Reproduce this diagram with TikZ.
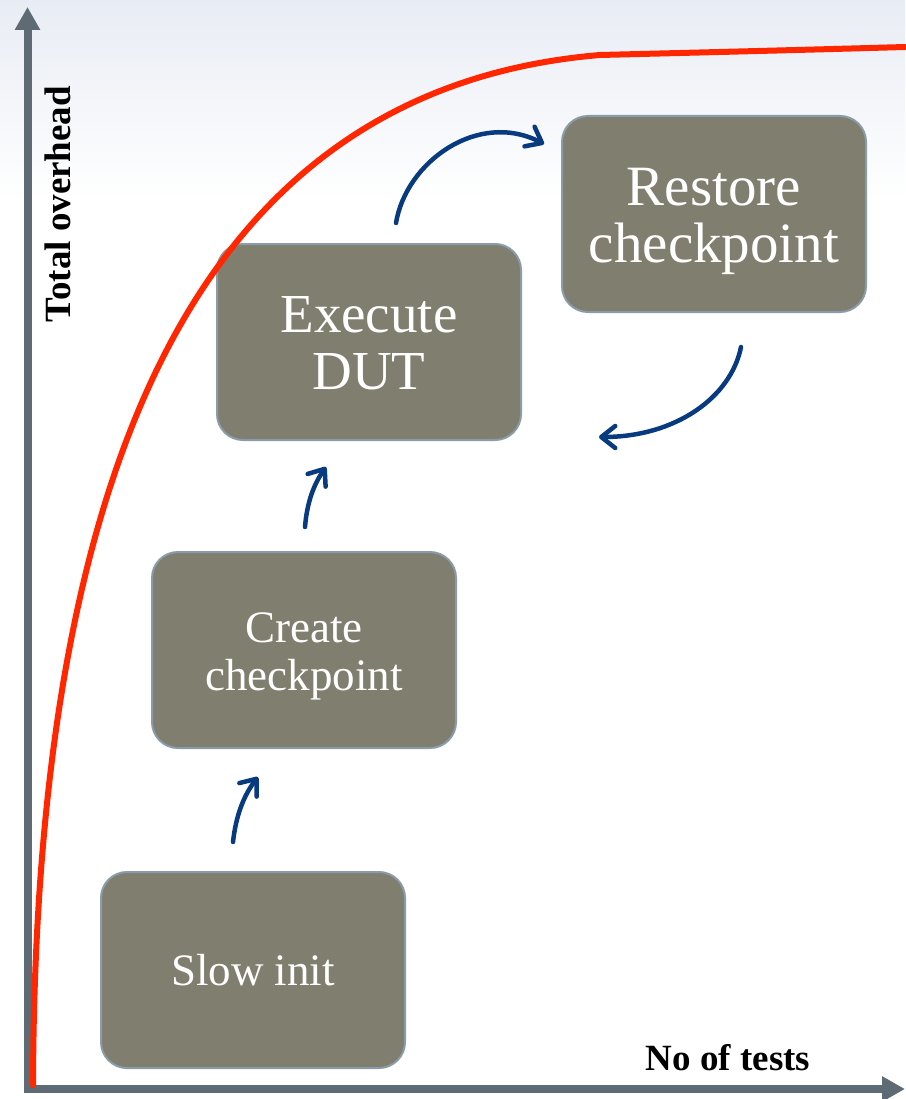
\documentclass[tikz,border=0pt]{standalone}
\usepackage{fontspec}
\setmainfont{Liberation Serif}
\usetikzlibrary{arrows.meta}

\definecolor{axisgray}{RGB}{94,107,116}
\definecolor{boxfill}{RGB}{128,126,110}
\definecolor{boxedge}{RGB}{138,156,170}
\definecolor{curvered}{RGB}{255,38,0}
\definecolor{flowblue}{RGB}{8,58,128}
\definecolor{skytop}{RGB}{232,236,244}

\tikzset{
  stagebox/.style={draw=boxedge, line width=2pt, fill=boxfill, rounded corners=26pt,
    minimum width=304pt, minimum height=196pt, inner sep=0pt},
  stagetext/.style={text=white, align=center, inner sep=0pt},
  bigtext/.style={font=\fontsize{55}{57}\selectfont},
  hugetext/.style={font=\fontsize{57}{57}\selectfont},
  smalltext/.style={font=\fontsize{45}{48}\selectfont},
  axisline/.style={draw=axisgray, line width=8pt, -{Triangle[length=23pt,width=24pt]}},
  axislabel/.style={font=\bfseries\fontsize{37}{40}\selectfont, text=black, inner sep=0pt},
  flow/.style={draw=flowblue, line width=4.5pt, line cap=round,
    -{Straight Barb[length=14pt,width=22pt,line cap=round,line join=round]}},
  overhead/.style={draw=curvered, line width=6pt, line cap=round}
}

\begin{document}
\begin{tikzpicture}[x=1pt,y=-1pt]
  % page area and soft sky band at the top
  \useasboundingbox (0,0) rectangle (905,1099);
  \fill[white] (0,0) rectangle (905,1099);
  \shade[top color=skytop, bottom color=white] (0,0) rectangle (905,200);

  % axes
  \coordinate (ytip) at (27.5,7);
  \coordinate (xtip) at (905,1089);
  \coordinate (ystart) at (27.5,1093);
  \coordinate (xstart) at (23.5,1089);
  \draw[axisline] (ystart) -- (ytip);
  \draw[axisline] (xstart) -- (xtip);
  \node[axislabel, rotate=90] (ylab) at (58,204) {Total overhead};
  \node[axislabel] (xlab) at (728,1058) {No of tests};

  % stages
  \node[stagebox] (slow) at (253,970) {};
  \node[stagebox] (create) at (304,650) {};
  \node[stagebox] (exec) at (369,342) {};
  \node[stagebox] (restore) at (714,214) {};
  \node[stagetext, smalltext] (slowtxt) at (slow.center) {Slow init};
  \node[stagetext, smalltext] (createtxt) at ([yshift=-6pt]create.center) {Create\\checkpoint};
  \node[stagetext, bigtext] (exectxt) at ([yshift=-1pt]exec.center) {Execute\\DUT};
  \node[stagetext, hugetext] (restoretxt) at ([yshift=-7pt]restore.center) {Restore\\checkpoint};

  % total overhead curve
  \coordinate (c0) at (33,1085);
  \coordinate (c1) at (600,55);
  \coordinate (c2) at (905,47);
  \draw[overhead] (c0) .. controls (35,500) and (180,90) .. (c1)
                       .. controls (700,52.5) and (800,50) .. (c2);

  % flow between stages
  \coordinate (a1s) at (233,842);
  \coordinate (a1e) at (258,777);
  \coordinate (a2s) at (305,527);
  \coordinate (a2e) at (326,467);
  \coordinate (a3s) at (396,223);
  \coordinate (a3e) at (544,144);
  \coordinate (a4s) at (741,347);
  \coordinate (a4e) at (599,437);
  \draw[flow] (a1s) .. controls (236,815) and (244,795) .. (a1e);
  \draw[flow] (a2s) .. controls (307,502) and (314,484) .. (a2e);
  \draw[flow] (a3s) .. controls (406,162) and (478,110) .. (a3e);
  \draw[flow] (a4s) .. controls (731,397) and (676,437) .. (a4e);
\end{tikzpicture}
\end{document}
